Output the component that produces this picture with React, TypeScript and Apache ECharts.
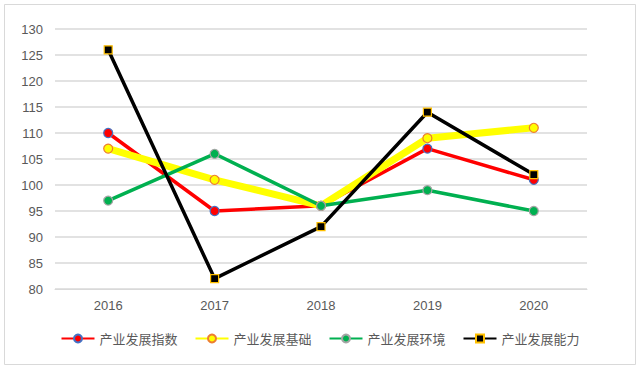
import React, { useEffect, useRef } from "react";
import * as echarts from "echarts";

const categories = ["2016", "2017", "2018", "2019", "2020"];
const seriesNames = ["产业发展指数", "产业发展基础", "产业发展环境", "产业发展能力"];
const indexValues = [110, 95, 96, 107, 101];
const baseValues = [107, 101, 96, 109, 111];
const envValues = [97, 106, 96, 99, 95];
const abilityValues = [126, 82, 92, 114, 102];

export default function App() {
  const ref = useRef<HTMLDivElement>(null);
  useEffect(() => {
    const chart = echarts.init(ref.current!, undefined, { renderer: "svg" });
    const mk = (
      name: string,
      data: number[],
      color: string,
      width: number,
      symbol: string,
      symbolSize: number,
      border: string
    ) => ({
      name,
      type: "line",
      data,
      symbol,
      symbolSize,
      showAllSymbol: true,
      lineStyle: { color, width },
      itemStyle: { color, borderColor: border, borderWidth: 1.2 },
      emphasis: { disabled: true },
    });
    chart.setOption({
      animation: false,
      backgroundColor: "#ffffff",
      graphic: [
        {
          type: "rect",
          shape: { x: 4.5, y: 4.5, width: 631, height: 360 },
          style: { fill: "none", stroke: "#d9d9d9", lineWidth: 1 },
          silent: true,
        },
      ],
      grid: { left: 55, right: 53, top: 29, bottom: 80, containLabel: false },
      legend: {
        bottom: 19,
        left: "center",
        itemWidth: 33,
        itemHeight: 10,
        itemGap: 17,
        textStyle: { color: "#595959", fontSize: 13, fontFamily: "Noto Sans CJK SC" },
        data: seriesNames,
      },
      xAxis: {
        type: "category",
        data: categories,
        boundaryGap: true,
        axisLine: { lineStyle: { color: "#d9d9d9", width: 1 } },
        axisTick: { show: false },
        axisLabel: { color: "#595959", fontSize: 13, margin: 10, fontFamily: "Liberation Sans" },
      },
      yAxis: {
        type: "value",
        min: 80,
        max: 130,
        interval: 5,
        axisLine: { show: false },
        axisTick: { show: false },
        axisLabel: { color: "#595959", fontSize: 13, margin: 12, fontFamily: "Liberation Sans" },
        splitLine: { lineStyle: { color: "#d9d9d9", width: 1.5 } },
      },
      series: [
        mk(seriesNames[0], indexValues, "#ff0000", 3.5, "circle", 9, "#4472c4"),
        mk(seriesNames[1], baseValues, "#ffff00", 7, "circle", 9, "#ed7d31"),
        mk(seriesNames[2], envValues, "#00b050", 3.5, "circle", 9, "#a5a5a5"),
        mk(seriesNames[3], abilityValues, "#000000", 3.5, "rect", 8, "#ffc000"),
      ],
    });
    return () => chart.dispose();
  }, []);
  return (
    <div
      ref={ref}
      style={{ position: "fixed", left: 0, top: 0, width: 640, height: 369 }}
    />
  );
}
